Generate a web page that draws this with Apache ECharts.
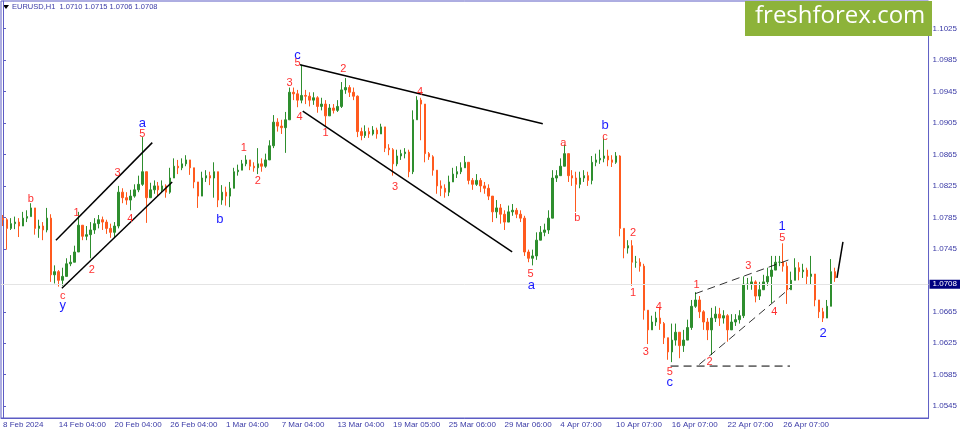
<!DOCTYPE html>
<html><head><meta charset="utf-8">
<script src="https://cdn.jsdelivr.net/npm/echarts@6.0.0/dist/echarts.min.js"></script>
<style>html,body{margin:0;padding:0;background:#fff}#c{width:960px;height:431px}</style>
</head><body><div id="c"></div>
<script>
// ---- data (EURUSD H1, each candle ~ 7 hourly bars) ----
const firstOpen = 1.0784;
const closes = [
1.0782,1.0771,1.0777,1.0779,1.0774,1.0784,1.0786,1.0797,1.0771,1.0774,
1.0769,1.0784,1.0712,1.0716,1.0705,1.0710,1.0726,1.0728,1.0741,1.0775,
1.0761,1.0763,1.0769,1.0777,1.0782,1.0779,1.0771,1.0766,1.0774,1.0817,
1.0810,1.0807,1.0812,1.0820,1.0827,1.0843,1.0810,1.0820,1.0825,1.0820,
1.0825,1.0817,1.0835,1.0850,1.0848,1.0853,1.0858,1.0848,1.0830,1.0812,
1.0835,1.0838,1.0835,1.0843,1.0807,1.0817,1.0812,1.0822,1.0843,1.0845,
1.0853,1.0858,1.0850,1.0848,1.0853,1.0850,1.0858,1.0876,1.0906,1.0901,
1.0899,1.0909,1.0944,1.0942,1.0934,1.0940,1.0939,1.0934,1.0937,1.0926,
1.0929,1.0914,1.0924,1.0921,1.0926,1.0947,1.0950,1.0944,1.0939,1.0894,
1.0889,1.0894,1.0891,1.0896,1.0891,1.0900,1.0873,1.0871,1.0853,1.0863,
1.0866,1.0868,1.0843,1.0909,1.0934,1.0929,1.0866,1.0862,1.0845,1.0825,
1.0822,1.0817,1.0830,1.0840,1.0843,1.0848,1.0855,1.0832,1.0827,1.0832,
1.0825,1.0822,1.0812,1.0792,1.0797,1.0789,1.0779,1.0792,1.0794,1.0789,
1.0784,1.0741,1.0733,1.0736,1.0756,1.0766,1.0769,1.0784,1.0835,1.0838,
1.0850,1.0866,1.0838,1.0835,1.0827,1.0835,1.0838,1.0832,1.0855,1.0858,
1.0860,1.0863,1.0858,1.0855,1.0863,1.0771,1.0746,1.0749,1.0728,1.0728,
1.0723,1.0667,1.0642,1.0652,1.0657,1.0650,1.0632,1.0614,1.0629,1.0639,
1.0622,1.0629,1.0645,1.0672,1.0680,1.0665,1.0652,1.0642,1.0657,1.0662,
1.0657,1.0660,1.0642,1.0652,1.0655,1.0660,1.0700,1.0700,1.0703,1.0685,
1.0693,1.0703,1.0710,1.0718,1.0728,1.0728,1.0723,1.0693,1.0705,1.0721,
1.0716,1.0718,1.0710,1.0713,1.0680,1.0665,1.0657,1.0672,1.0716,1.0708
];
const highs = [
1.0788,1.0784,1.0784,1.0786,1.0784,1.0792,1.0794,1.0803,1.0794,1.0782,
1.0779,1.0797,1.0789,1.0724,1.0718,1.0721,1.0733,1.0737,1.0749,1.0792,
1.0775,1.0774,1.0779,1.0784,1.0788,1.0786,1.0782,1.0777,1.0779,1.0825,
1.0822,1.0817,1.0820,1.0827,1.0838,1.0887,1.0832,1.0829,1.0832,1.0830,
1.0832,1.0827,1.0848,1.0860,1.0858,1.0860,1.0864,1.0858,1.0845,1.0826,
1.0843,1.0845,1.0843,1.0855,1.0832,1.0826,1.0824,1.0830,1.0848,1.0852,
1.0858,1.0864,1.0858,1.0855,1.0873,1.0860,1.0866,1.0883,1.0915,1.0911,
1.0909,1.0919,1.0950,1.0950,1.0947,1.0979,1.0947,1.0944,1.0944,1.0939,
1.0937,1.0934,1.0929,1.0929,1.0934,1.0957,1.0962,1.0953,1.0950,1.0940,
1.0899,1.0902,1.0899,1.0901,1.0899,1.0904,1.0896,1.0878,1.0873,1.0871,
1.0871,1.0873,1.0871,1.0921,1.0939,1.0937,1.0909,1.0868,1.0864,1.0843,
1.0832,1.0827,1.0838,1.0848,1.0850,1.0855,1.0863,1.0853,1.0835,1.0840,
1.0835,1.0830,1.0827,1.0812,1.0807,1.0802,1.0794,1.0800,1.0802,1.0797,
1.0794,1.0787,1.0744,1.0744,1.0766,1.0774,1.0777,1.0794,1.0845,1.0845,
1.0860,1.0877,1.0860,1.0845,1.0843,1.0843,1.0845,1.0843,1.0863,1.0866,
1.0871,1.0886,1.0871,1.0864,1.0868,1.0864,1.0766,1.0756,1.0756,1.0736,
1.0733,1.0726,1.0662,1.0660,1.0665,1.0670,1.0652,1.0629,1.0650,1.0650,
1.0637,1.0642,1.0655,1.0680,1.0690,1.0685,1.0667,1.0657,1.0670,1.0672,
1.0670,1.0667,1.0662,1.0662,1.0662,1.0667,1.0710,1.0708,1.0710,1.0705,
1.0703,1.0712,1.0721,1.0736,1.0736,1.0736,1.0752,1.0728,1.0716,1.0733,
1.0728,1.0726,1.0721,1.0736,1.0710,1.0680,1.0670,1.0680,1.0732,1.0721
];
const lows = [
1.0774,1.0744,1.0769,1.0770,1.0760,1.0777,1.0779,1.0789,1.0763,1.0759,
1.0756,1.0766,1.0703,1.0701,1.0697,1.0698,1.0716,1.0723,1.0733,1.0741,
1.0756,1.0756,1.0733,1.0764,1.0771,1.0769,1.0764,1.0759,1.0760,1.0771,
1.0803,1.0801,1.0794,1.0810,1.0817,1.0825,1.0778,1.0811,1.0815,1.0812,
1.0817,1.0810,1.0815,1.0843,1.0840,1.0845,1.0850,1.0839,1.0822,1.0797,
1.0812,1.0830,1.0826,1.0810,1.0798,1.0801,1.0800,1.0798,1.0822,1.0838,
1.0845,1.0850,1.0845,1.0843,1.0840,1.0843,1.0848,1.0863,1.0873,1.0894,
1.0891,1.0867,1.0909,1.0934,1.0925,1.0930,1.0929,1.0926,1.0928,1.0918,
1.0921,1.0900,1.0917,1.0917,1.0919,1.0924,1.0942,1.0938,1.0934,1.0887,
1.0883,1.0886,1.0886,1.0889,1.0885,1.0892,1.0868,1.0864,1.0838,1.0850,
1.0858,1.0860,1.0836,1.0840,1.0929,1.0883,1.0855,1.0858,1.0838,1.0815,
1.0812,1.0810,1.0812,1.0830,1.0835,1.0840,1.0848,1.0827,1.0820,1.0825,
1.0817,1.0815,1.0807,1.0779,1.0784,1.0777,1.0769,1.0782,1.0787,1.0784,
1.0779,1.0736,1.0728,1.0724,1.0731,1.0759,1.0761,1.0764,1.0792,1.0830,
1.0838,1.0855,1.0830,1.0825,1.0792,1.0822,1.0830,1.0825,1.0827,1.0850,
1.0853,1.0855,1.0850,1.0849,1.0853,1.0761,1.0733,1.0739,1.0698,1.0721,
1.0716,1.0655,1.0624,1.0642,1.0647,1.0642,1.0624,1.0604,1.0601,1.0622,
1.0606,1.0614,1.0632,1.0642,1.0670,1.0657,1.0642,1.0629,1.0610,1.0652,
1.0647,1.0650,1.0627,1.0642,1.0647,1.0650,1.0657,1.0693,1.0693,1.0677,
1.0680,1.0693,1.0698,1.0676,1.0721,1.0723,1.0716,1.0675,1.0693,1.0710,
1.0705,1.0708,1.0700,1.0700,1.0672,1.0657,1.0652,1.0657,1.0672,1.0703
];
const lastPrice = 1.0708;
const headerText = 'EURUSD,H1  1.0710 1.0715 1.0706 1.0708';
const xTickLabels = ['8 Feb 2024','14 Feb 04:00','20 Feb 04:00','26 Feb 04:00','1 Mar 04:00','7 Mar 04:00','13 Mar 04:00','19 Mar 05:00','25 Mar 06:00','29 Mar 06:00','4 Apr 07:00','10 Apr 07:00','16 Apr 07:00','22 Apr 07:00','26 Apr 07:00'];
const candlesPerLabel = 14;
const slotCount = 233;
const yTickValues = [1.0545,1.0585,1.0625,1.0665,1.0745,1.0785,1.0825,1.0865,1.0905,1.0945,1.0985,1.1025];
const yMin = 1.0530, yMax = 1.1060;

// trend lines: [candle index, price]
const channelUpper = [[13.3,1.0756],[37.5,1.0880]];
const channelLower = [[14.8,1.0695],[42.5,1.0830]];
const wedgeUpper = [[74.6,1.0979],[135.6,1.0904]];
const wedgeLower = [[75.3,1.0920],[127.9,1.0741]];
const diagUpper = [[173.9,1.0688],[197.4,1.0731]];
const diagLower = [[174.9,1.0598],[197.7,1.0695]];
const supportLine = [[167.7,1.0596],[197.7,1.0596]];
const projection = [[209.5,1.0708],[211,1.0754]];

// wave labels: [candle index, price, text]
const redLabels = [
[7.0,1.0808,'b'],[15,1.0685,'c'],[18.5,1.0790,'1'],[22.3,1.0718,'2'],[28.8,1.0841,'3'],[32,1.0783,'4'],[35,1.0891,'5'],
[60.5,1.0873,'1'],[64,1.0831,'2'],[72,1.0956,'3'],[74.5,1.0913,'4'],[74,1.0981,'5'],
[81,1.0892,'1'],[85.5,1.0973,'2'],[98.5,1.0824,'3'],[104.75,1.0944,'4'],[132.5,1.0713,'5'],
[140.75,1.0880,'a'],[144.25,1.0784,'b'],[151.25,1.0887,'c'],
[158.25,1.0765,'2'],[158.25,1.0689,'1'],[164.75,1.0671,'4'],[161.5,1.0614,'3'],[167.5,1.0589,'5'],
[174.25,1.0699,'1'],[177.5,1.0601,'2'],[187.25,1.0723,'3'],[193.75,1.0665,'4'],[195.75,1.0759,'5']
];
const blueLabels = [
[15,1.0673,'y'],[35,1.0905,'a'],[54.5,1.0782,'b'],[74,1.0991,'c'],[132.75,1.0698,'a'],
[151.25,1.0902,'b'],[167.5,1.0575,'c'],[195.75,1.0773,'1'],[206,1.0637,'2']
];

// ---- build ----
const categories = Array.from({length: slotCount}, (_, i) => 'k' + i);
const candles = closes.map((c, i) => {
  const o = i ? closes[i - 1] : firstOpen;
  return [o, c, Math.min(lows[i], o, c), Math.max(highs[i], o, c)];
});
const axisColor = '#5c5cc4';
const textColor = '#3a3aa6';
const FONT = 'Liberation Sans';

function trend(data, dashed, width) {
  return {
    type: 'line', xAxisIndex: 1, yAxisIndex: 0, data, symbol: 'none', silent: true, z: 5,
    lineStyle: {color: '#000', width: width || 1.5, type: dashed ? [8, 5] : 'solid'}
  };
}
function labelSeries(arr, color, size) {
  return {
    type: 'scatter', xAxisIndex: 1, yAxisIndex: 0, symbolSize: 1, z: 10, silent: true,
    itemStyle: {color: 'rgba(0,0,0,0)', opacity: 1},
    data: arr.map(d => ({value: [d[0], d[1]], name: d[2]})),
    label: {show: true, position: 'inside', formatter: '{b}', color, opacity: 1, fontSize: size, fontFamily: FONT}
  };
}

const chart = echarts.init(document.getElementById('c'), null, {renderer: 'canvas'});
chart.setOption({
  animation: false,
  backgroundColor: '#fff',
  grid: {left: 1, right: 28, top: 1, bottom: 13, show: true, borderColor: axisColor, borderWidth: 1},
  xAxis: [{
    type: 'category', data: categories, boundaryGap: true,
    axisLine: {lineStyle: {color: axisColor}},
    axisTick: {alignWithLabel: true, length: 3, lineStyle: {color: axisColor},
      interval: i => i % candlesPerLabel === 0 && i / candlesPerLabel < xTickLabels.length},
    axisLabel: {
      interval: i => i % candlesPerLabel === 0 && i / candlesPerLabel < xTickLabels.length,
      formatter: (v, i) => xTickLabels[i / candlesPerLabel] || '',
      align: 'left', margin: 3, color: textColor, fontSize: 8, fontFamily: FONT
    },
    splitLine: {show: false}
  }, {
    type: 'value', min: -0.5, max: slotCount - 0.5, show: false
  }],
  yAxis: [{
    type: 'value', position: 'right', min: yMin, max: yMax, scale: true,
    axisLine: {show: true, lineStyle: {color: axisColor}},
    axisTick: {show: true, length: 3, customValues: yTickValues, lineStyle: {color: axisColor}},
    axisLabel: {customValues: yTickValues, formatter: v => v.toFixed(4), margin: 4,
      color: textColor, fontSize: 8, fontFamily: FONT},
    splitLine: {show: false}
  }],
  series: [
    {
      type: 'candlestick', xAxisIndex: 0, yAxisIndex: 0, data: candles, barWidth: 2, z: 2,
      itemStyle: {color: '#2e8e2e', color0: '#ff5a1e', borderColor: '#2e8e2e', borderColor0: '#ff5a1e', borderWidth: 1},
      markLine: {
        silent: true, symbol: 'none', animation: false,
        lineStyle: {color: '#e4e4e4', width: 1, type: 'solid'},
        label: {show: true, position: 'end', formatter: lastPrice.toFixed(4), distance: 1,
          backgroundColor: '#000080', color: '#fff', padding: [1, 3, 0, 3], fontSize: 8, fontFamily: FONT},
        data: [{yAxis: lastPrice}]
      }
    },
    trend(channelUpper), trend(channelLower),
    trend(wedgeUpper), trend(wedgeLower),
    trend(diagUpper, true, 0.8), trend(diagLower, true, 0.8), trend(supportLine, true, 1),
    trend(projection, false, 1.5),
    labelSeries(redLabels, '#ff3030', 11),
    labelSeries(blueLabels, '#1c1cff', 13)
  ],
  graphic: [
    {type: 'polygon', shape: {points: [[3, 5], [9, 5], [6, 9]]}, style: {fill: '#000'}},
    {type: 'text', left: 12, top: 3, style: {text: headerText, fill: textColor, font: '7.5px "Liberation Sans"'}},
    {type: 'rect', shape: {x: 745, y: 1, width: 187, height: 35}, style: {fill: '#8db33a'}},
    {type: 'text', left: 755, top: 4, style: {text: 'freshforex.com', fill: '#fff', font: '24px "Open Sans"'}}
  ]
});
</script></body></html>
